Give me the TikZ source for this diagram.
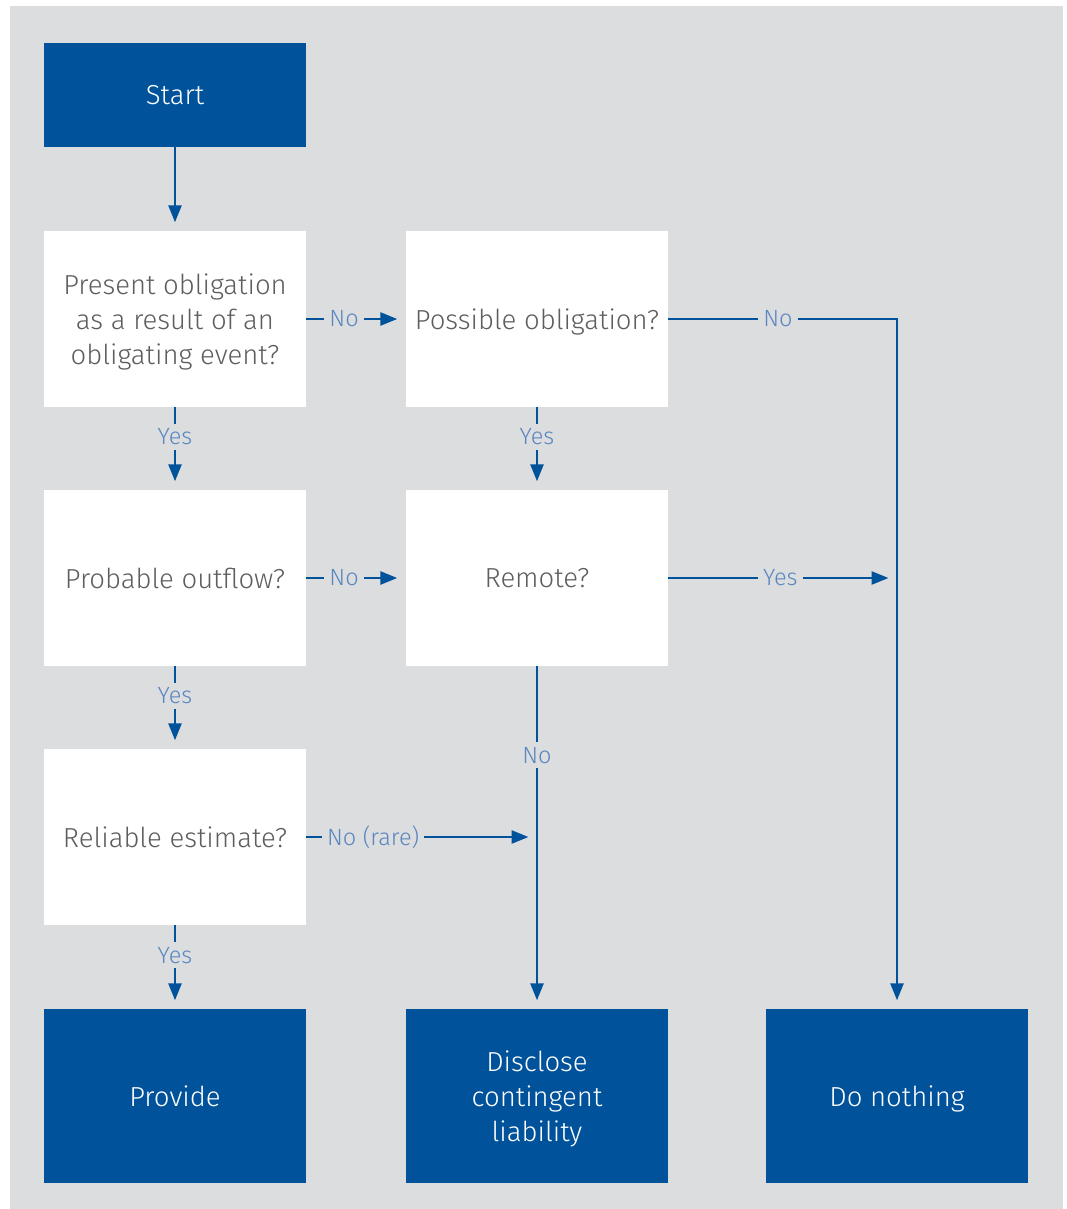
\documentclass[tikz,border=0pt]{standalone}
\usepackage{fontspec}
\setmainfont{Fira Sans Light}
\usetikzlibrary{arrows.meta, positioning}
\definecolor{flowblue}{HTML}{00529B}
\definecolor{bggrey}{HTML}{DCDDDF}
\definecolor{lblblue}{HTML}{5A86C0}
\definecolor{textgrey}{HTML}{5E5E5E}
\begin{document}
\begin{tikzpicture}[x=1pt,y=-1pt,on grid,node distance=259pt and 362pt,
      >={Triangle[length=17pt,width=13pt]},
      every node/.style={font=\fontsize{27.5}{35}\selectfont},
      decision/.style={fill=white,text=textgrey,minimum width=262pt,minimum height=176pt,align=center,inner sep=0pt,text depth=0pt},
      terminal/.style={fill=flowblue,text=white,minimum width=262pt,minimum height=174pt,align=center,inner sep=0pt,text depth=0pt},
      lbl/.style={fill=bggrey,text=lblblue,font=\fontsize{23.5}{27}\selectfont,inner sep=5pt},
      flow/.style={draw=flowblue,line width=2.6pt,->,shorten >=8.5pt}]
      \useasboundingbox (0,0) rectangle (1067,1209);
      \fill[bggrey] (10,6) rectangle (1063,1209);
      \node[terminal,minimum height=104pt] (start) at (175,95) {Start};
      \node[decision] (present) at (175,319) {Present obligation\\as a result of an\\obligating event?};
      \node[decision,right=of present] (possible) {Possible obligation?};
      \node[decision,below=of present] (outflow) {Probable outflow?};
      \node[decision,below=of possible] (remote) {Remote?};
      \node[decision,below=of outflow] (estimate) {Reliable estimate?};
      \node[terminal,below=of estimate] (provide) {Provide};
      \node[terminal,right=of provide] (disclose) {Disclose\\contingent\\liability};
      \node[terminal,right=360pt of disclose] (nothing) {Do nothing};
      \coordinate (bend) at (possible -| nothing);
      \coordinate (join) at (remote -| nothing);
      \coordinate (rare) at (estimate -| disclose);
      \draw[flow] (start) -- (present);
      \draw[flow] (present) -- node[lbl,pos=.36] {Yes} (outflow);
      \draw[flow] (present) -- node[lbl,pos=.38] {No} (possible);
      \draw[flow] (possible) -- node[lbl,pos=.36] {Yes} (remote);
      \draw[flow] (possible) -- node[lbl,pos=.48] {No} (bend) -- (nothing);
      \draw[flow] (outflow) -- node[lbl,pos=.36] {Yes} (estimate);
      \draw[flow] (outflow) -- node[lbl,pos=.38] {No} (remote);
      \draw[flow] (remote) -- node[lbl,pos=.49] {Yes} (join);
      \draw[flow] (remote) -- node[lbl,pos=.26] {No} (disclose);
      \draw[flow] (estimate) -- node[lbl,pos=.29] {No (rare)} (rare);
      \draw[flow] (estimate) -- node[lbl,pos=.36] {Yes} (provide);
    \end{tikzpicture}
\end{document}
